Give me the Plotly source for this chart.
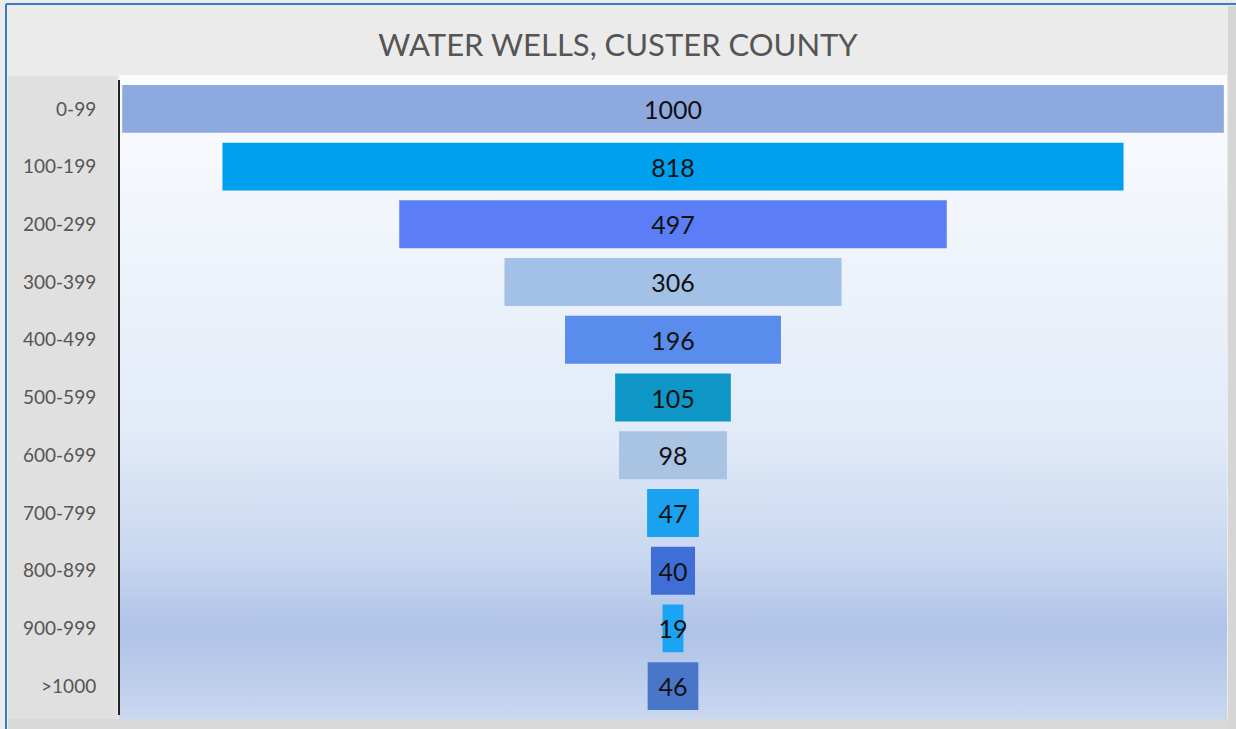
import base64
import plotly.graph_objects as go

# ---- data ----
categories = ["0-99", "100-199", "200-299", "300-399", "400-499", "500-599",
              "600-699", "700-799", "800-899", "900-999", ">1000"]
wells = [1000, 818, 497, 306, 196, 105, 98, 47, 40, 19, 46]
bar_colors = ["#8DA9DD", "#00A0EE", "#5B7DF5", "#A3C1E6", "#5A8CEE", "#0E97C6",
              "#A9C4E3", "#1AA1F0", "#3F6FD6", "#1CA4F4", "#4A76CA"]
title_text = "WATER WELLS, CUSTER COUNTY"

W, H = 1236, 729
L, R, T, B = 120, 10, 80, 14
pw, ph = W - L - R, H - T - B


def px_x(px):
    return (px - L) / pw


def px_y(py):
    return (H - B - py) / ph


# vertical gradient for plot area background (SVG data URI)
svg = """<svg xmlns='http://www.w3.org/2000/svg' width='100' height='100' preserveAspectRatio='none'>
<defs><linearGradient id='g' x1='0' y1='0' x2='0' y2='1'>
<stop offset='0' stop-color='#FBFCFE'/>
<stop offset='0.3' stop-color='#EEF3FB'/>
<stop offset='0.55' stop-color='#E2EBF8'/>
<stop offset='0.75' stop-color='#C8D7F0'/>
<stop offset='0.86' stop-color='#AFC3E8'/>
<stop offset='0.95' stop-color='#BFCFEC'/>
<stop offset='1' stop-color='#CAD7F0'/>
</linearGradient></defs>
<rect width='100' height='100' fill='url(#g)'/></svg>"""
svg_uri = "data:image/svg+xml;base64," + base64.b64encode(svg.encode()).decode()

fig = go.Figure()
fig.add_trace(go.Funnel(
    y=categories,
    x=wells,
    marker=dict(color=bar_colors, line=dict(width=0)),
    connector=dict(visible=False),
    textinfo="value",
    textposition="inside",
    insidetextanchor="middle",
    constraintext="none",
    textangle=0,
    textfont=dict(family="Lato, Open Sans, sans-serif", size=25, color="#111111"),
    hoverinfo="y+x",
))

shapes = [
    # outer frame line (blue) top & left
    dict(type="line", xref="paper", yref="paper", x0=px_x(6), x1=px_x(1236), y0=px_y(4), y1=px_y(4),
         line=dict(color="#3A7BC8", width=2)),
    dict(type="line", xref="paper", yref="paper", x0=px_x(6), x1=px_x(6), y0=px_y(4), y1=px_y(729),
         line=dict(color="#3A7BC8", width=2)),
    # left label panel
    dict(type="rect", xref="paper", yref="paper", x0=px_x(8), x1=px_x(117), y0=px_y(76), y1=px_y(720),
         fillcolor="#E0E0E0", line=dict(width=0), layer="below"),
    # bottom band
    dict(type="rect", xref="paper", yref="paper", x0=px_x(8), x1=px_x(1236), y0=px_y(719), y1=px_y(729),
         fillcolor="#D9D9D9", line=dict(width=0), layer="below"),
    # right band
    dict(type="rect", xref="paper", yref="paper", x0=px_x(1228), x1=px_x(1236), y0=px_y(6), y1=px_y(729),
         fillcolor="#D6D6D6", line=dict(width=0), layer="below"),
]

fig.update_layout(
    width=W, height=H,
    margin=dict(l=L, r=R, t=T, b=B),
    paper_bgcolor="#EBEBEB",
    plot_bgcolor="rgba(0,0,0,0)",
    funnelgap=0.17,
    showlegend=False,
    title=dict(text=title_text, x=0.5, xref="container", xanchor="center",
               y=1 - 45 / H, yref="container", yanchor="middle",
               font=dict(family="Lato, Open Sans, sans-serif", size=31, color="#555555")),
    xaxis=dict(visible=False, range=[-502, 502], fixedrange=True),
    yaxis=dict(autorange="reversed", showline=True, linecolor="#222222", linewidth=2,
               showgrid=False, zeroline=False, ticks="", ticklabelstandoff=18,
               tickfont=dict(family="Lato, Open Sans, sans-serif", size=19, color="#555555")),
    images=[dict(source=svg_uri, xref="paper", yref="paper",
                 x=px_x(119), y=px_y(75), sizex=px_x(1227) - px_x(119),
                 sizey=px_y(75) - px_y(719), sizing="stretch", layer="below",
                 xanchor="left", yanchor="top")],
    shapes=shapes,
)

fig.write_html("out.html", config={"displayModeBar": False},
               post_script="document.body.style.margin='0';")
